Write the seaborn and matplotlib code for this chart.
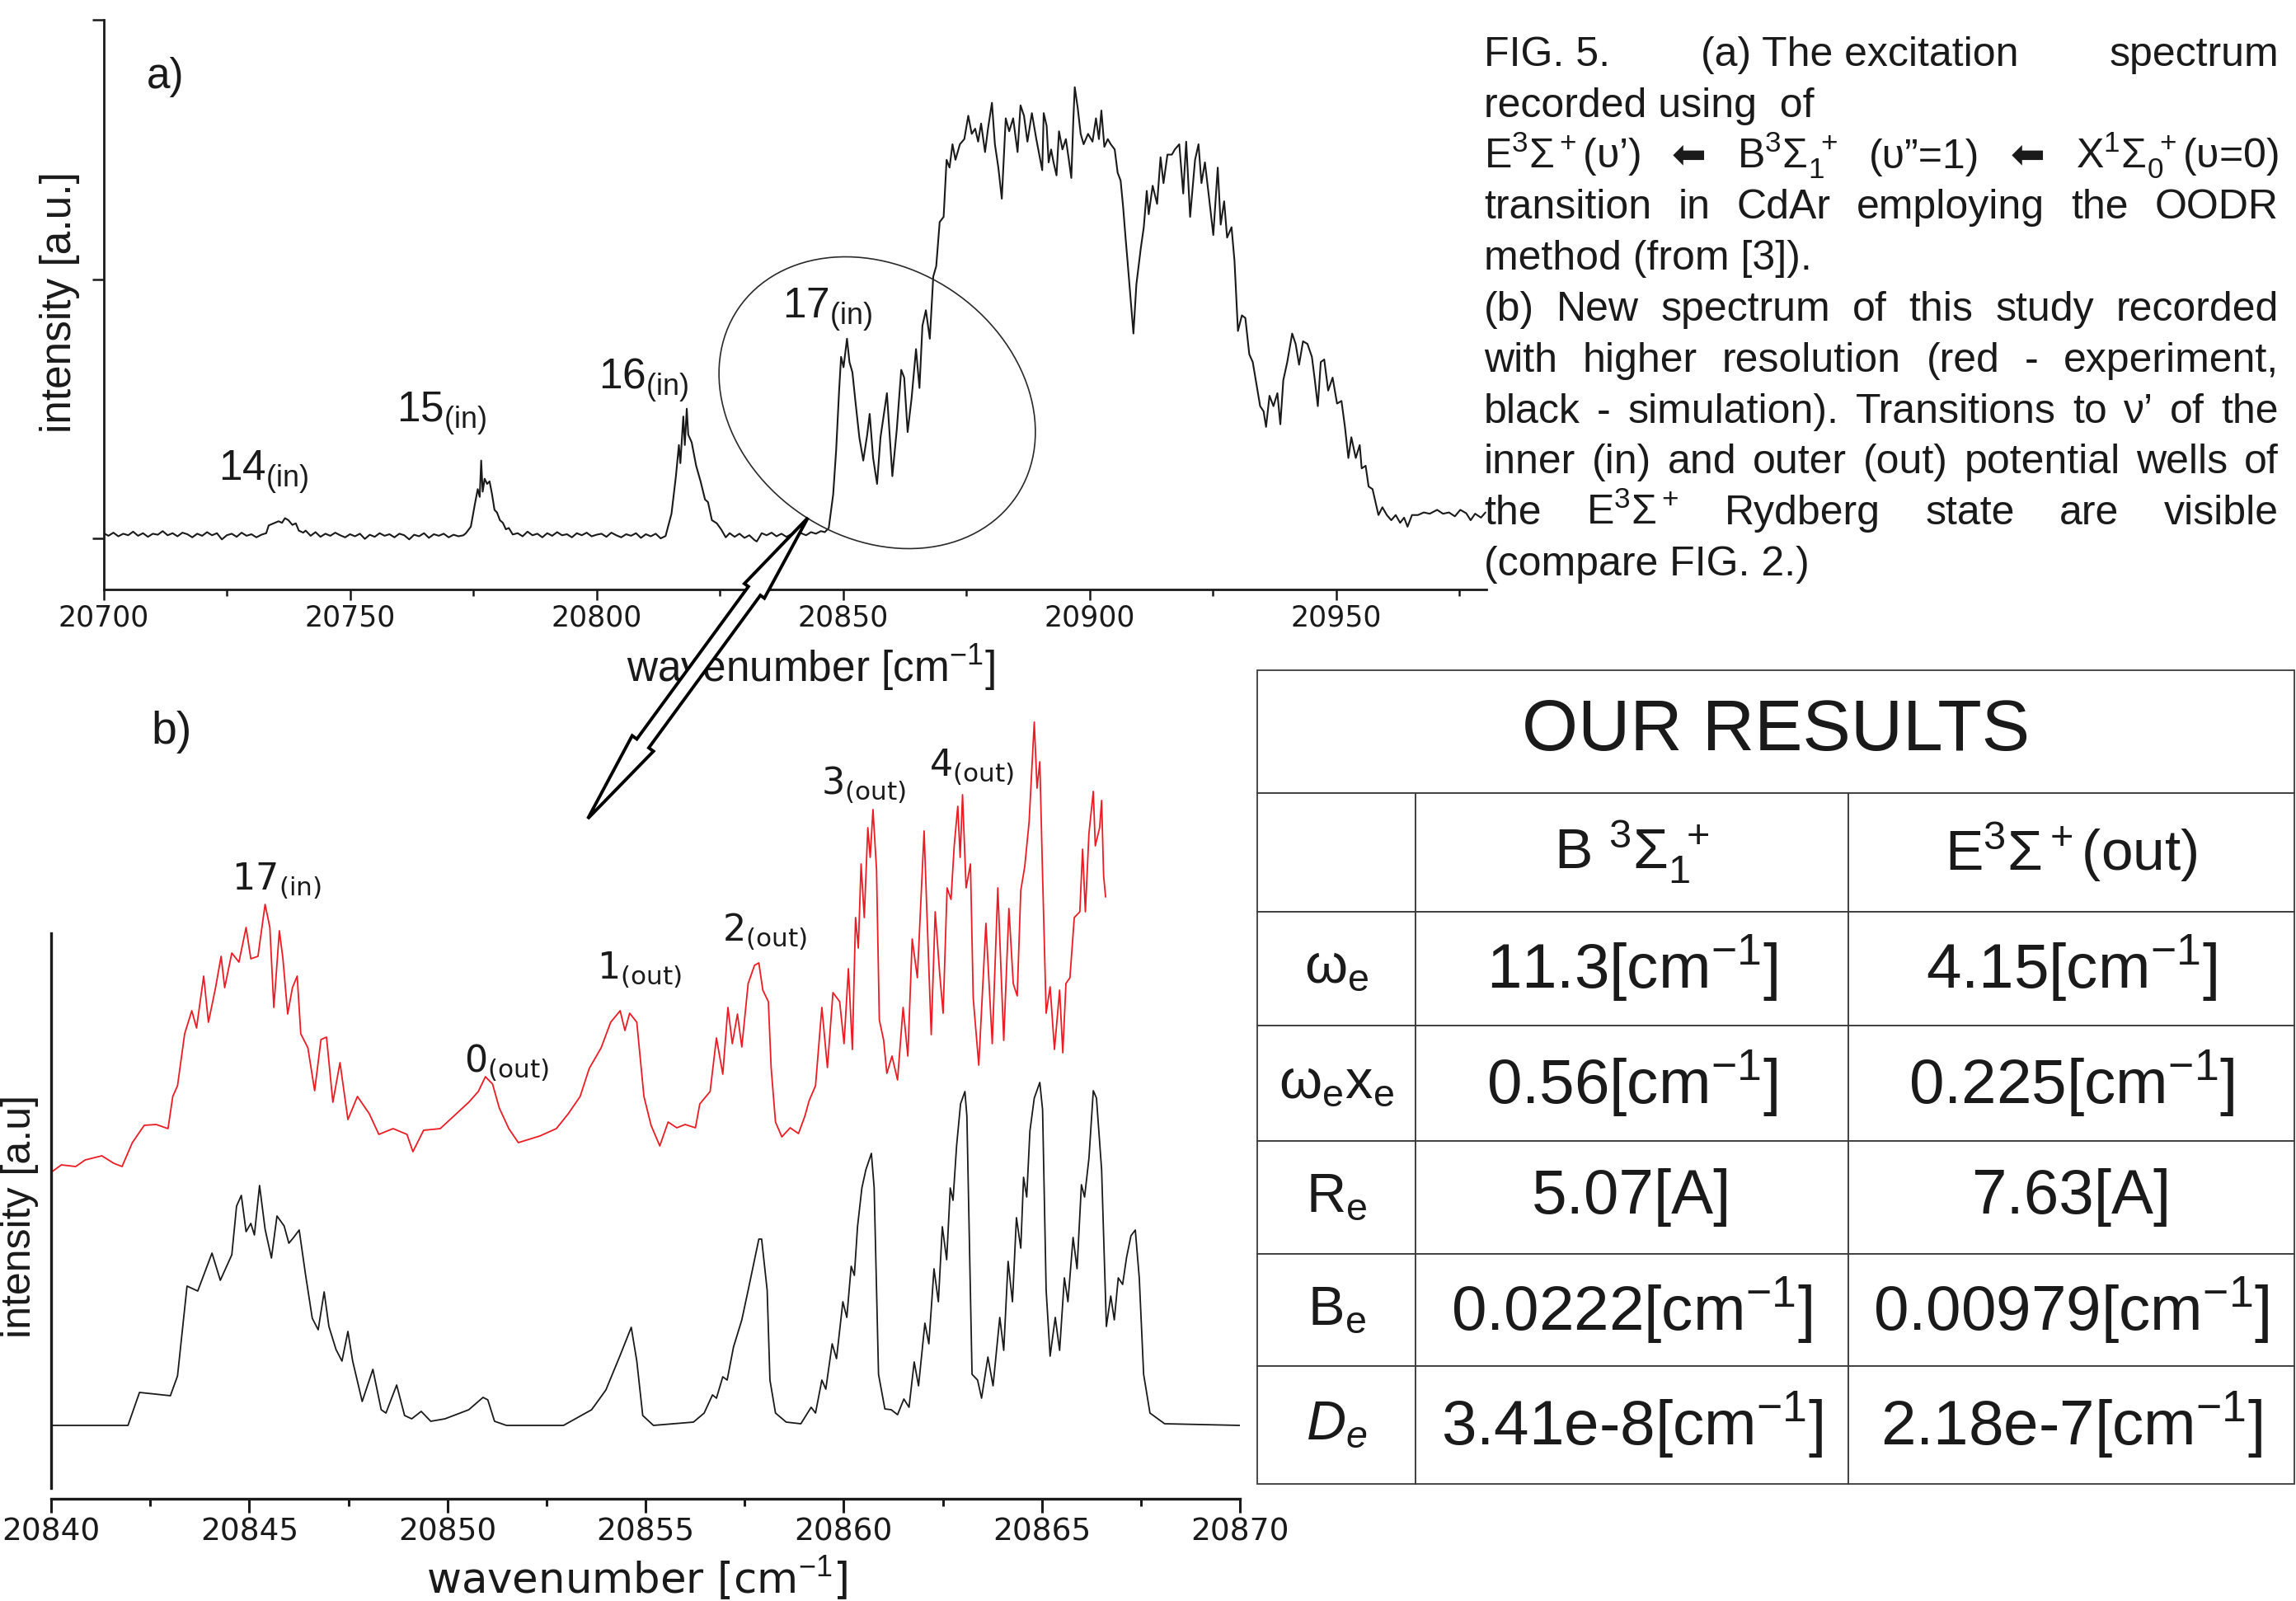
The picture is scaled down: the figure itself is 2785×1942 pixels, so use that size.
"""FIG. 5 re-draw: CdAr excitation spectra (a, b) + fitted constants table."""
import math

import matplotlib
matplotlib.use("Agg")
import matplotlib.pyplot as plt
import seaborn as sns
from matplotlib.patches import Ellipse, Polygon
from matplotlib.table import Table
from matplotlib.ticker import MultipleLocator
from matplotlib.transforms import Affine2D

W, H, DPI = 2785, 1942, 100

# ---- panel a: OODR excitation spectrum (from [3]) ----
A_WN = [
    20700, 20701, 20702, 20703, 20704, 20705, 20706, 20707, 20708, 20709,
    20710, 20711, 20712, 20713, 20714, 20715, 20716, 20717, 20718, 20719,
    20720, 20721, 20722, 20723, 20724, 20725, 20726, 20727, 20728, 20729,
    20730, 20731, 20732, 20733, 20733.5, 20734.5, 20735.5, 20736.2, 20736.8, 20737.5,
    20738.3, 20739.0, 20739.6, 20740.5, 20741, 20742, 20743, 20744, 20745, 20746,
    20747, 20748, 20749, 20750, 20751, 20752, 20753, 20754, 20755, 20756,
    20757, 20758, 20759, 20760, 20761, 20762, 20763, 20764, 20765, 20766,
    20767, 20768, 20769, 20770, 20771, 20772, 20773, 20773.5, 20774.5, 20775.3,
    20775.9, 20776.3, 20776.6, 20776.9, 20777.3, 20777.8, 20778.3, 20778.8, 20779.3, 20779.8,
    20780.4, 20781, 20781.6, 20782.2, 20783, 20784, 20785, 20786, 20787, 20788,
    20789, 20790, 20791, 20792, 20793, 20794, 20795, 20796, 20797, 20798,
    20799, 20800, 20801, 20802, 20803, 20804, 20805, 20806, 20807, 20808,
    20809, 20810, 20811, 20812, 20813, 20814, 20815.2, 20816.1, 20816.7, 20817.0,
    20817.6, 20817.9, 20818.3, 20818.6, 20819.3, 20820.2, 20821.1, 20822.0, 20822.6, 20823.4,
    20824.4, 20825.3, 20826.2, 20827, 20828, 20829, 20830, 20831, 20832, 20832.5,
    20833.5, 20834.5, 20835.5, 20836.5, 20837.5, 20838.5, 20839.5, 20840.5, 20841.5, 20842.5,
    20843.5, 20844.5, 20845.5, 20846.3, 20847.1, 20848.0, 20848.6, 20849.2, 20849.6, 20850.1,
    20850.8, 20851.3, 20851.9, 20852.5, 20853.3, 20854.1, 20854.9, 20855.4, 20856.1, 20856.9,
    20857.6, 20858.9, 20860.0, 20860.9, 20861.8, 20862.4, 20863.1, 20863.9, 20864.8, 20865.5,
    20866.1, 20866.8, 20867.6, 20868.3, 20868.9, 20869.6, 20870.4, 20871.0, 20871.6, 20872.2,
    20872.8, 20873.7, 20874.6, 20875.4, 20876.1, 20876.8, 20877.4, 20878.0, 20878.8, 20879.4,
    20880.2, 20880.8, 20881.5, 20882.2, 20883.0, 20883.7, 20884.5, 20885.4, 20886.0, 20886.7,
    20887.4, 20888.3, 20889.2, 20890.4, 20890.7, 20891.3, 20891.7, 20892.2, 20892.7, 20893.3,
    20893.8, 20894.5, 20895.2, 20895.8, 20896.3, 20896.7, 20897.0, 20897.6, 20898.2, 20898.8,
    20899.7, 20900.6, 20901.3, 20901.9, 20902.4, 20903.0, 20903.7, 20904.3, 20905.1, 20905.7,
    20906.3, 20906.8, 20907.3, 20907.7, 20908.3, 20908.9, 20909.5, 20910.4, 20911.0, 20911.6,
    20912.0, 20912.8, 20913.7, 20914.4, 20915.0, 20915.8, 20916.7, 20917.3, 20918.2, 20919.0,
    20919.6, 20920.4, 20921.4, 20922.1, 20922.7, 20923.4, 20924.2, 20925.1, 20926.0, 20926.6,
    20927.3, 20927.9, 20928.8, 20929.4, 20930.1, 20930.9, 20931.6, 20932.4, 20933.1, 20933.9,
    20934.6, 20935.3, 20935.8, 20936.5, 20937.3, 20938.1, 20938.7, 20939.3, 20940.1, 20941.1,
    20941.8, 20942.5, 20943.3, 20944.2, 20945.1, 20945.7, 20946.3, 20946.9, 20947.6, 20948.4,
    20949.3, 20950.2, 20951.1, 20951.8, 20952.5, 20953.1, 20954.0, 20954.8, 20955.2, 20956.0,
    20956.6, 20957.4, 20958.0, 20958.6, 20959.4, 20960.3, 20961.2, 20962.1, 20963.0, 20963.8,
    20964.5, 20965.4, 20966.6, 20967.8, 20969.0, 20970.5, 20971.7, 20972.9, 20974.1, 20975.2,
    20976.4, 20977.3, 20978.2, 20979.4, 20980.3,
]
A_INT = [
    0.020, 0.010, 0.022, 0.008, 0.018, 0.012, 0.026, 0.010, 0.020, 0.006,
    0.018, 0.014, 0.028, 0.012, 0.020, 0.008, 0.022, 0.016, 0.004, 0.018,
    0.010, 0.024, 0.012, 0.020, -0.004, 0.012, 0.018, 0.006, 0.022, 0.010,
    0.016, 0.004, 0.014, 0.020, 0.050, 0.058, 0.066, 0.060, 0.078, 0.070,
    0.052, 0.058, 0.030, 0.022, 0.030, 0.010, 0.024, 0.006, 0.018, 0.010,
    0.022, 0.012, 0.004, 0.016, 0.008, 0.018, -0.002, 0.014, 0.006, 0.020,
    0.010, 0.016, 0.004, 0.018, 0.012, -0.004, 0.014, 0.008, 0.020, 0.002,
    0.016, 0.010, 0.018, 0.004, 0.014, 0.008, 0.012, 0.020, 0.045, 0.130,
    0.190, 0.160, 0.300, 0.180, 0.230, 0.210, 0.220, 0.170, 0.110, 0.100,
    0.070, 0.060, 0.035, 0.040, 0.015, 0.020, 0.008, 0.026, 0.012, 0.018,
    0.004, 0.020, 0.010, 0.024, 0.012, 0.016, 0.004, 0.020, 0.012, 0.022,
    0.008, 0.014, 0.018, 0.006, 0.022, 0.012, 0.004, 0.016, 0.010, 0.020,
    0.002, 0.016, 0.008, 0.018, 0.000, 0.009, 0.095, 0.240, 0.360, 0.290,
    0.470, 0.360, 0.500, 0.400, 0.370, 0.280, 0.220, 0.150, 0.140, 0.070,
    0.058, 0.034, 0.004, 0.020, 0.006, 0.018, 0.002, 0.012, -0.006, -0.012,
    0.020, 0.012, 0.022, 0.008, 0.018, 0.006, 0.016, 0.010, 0.020, 0.012,
    0.024, 0.018, 0.028, 0.024, 0.040, 0.170, 0.340, 0.570, 0.700, 0.660,
    0.770, 0.680, 0.640, 0.530, 0.390, 0.300, 0.400, 0.480, 0.310, 0.210,
    0.390, 0.560, 0.240, 0.420, 0.650, 0.620, 0.410, 0.540, 0.730, 0.580,
    0.820, 0.880, 0.770, 1.010, 1.050, 1.220, 1.240, 1.460, 1.430, 1.520,
    1.460, 1.520, 1.540, 1.630, 1.560, 1.580, 1.530, 1.600, 1.490, 1.580,
    1.680, 1.520, 1.430, 1.310, 1.620, 1.570, 1.620, 1.490, 1.670, 1.630,
    1.530, 1.640, 1.540, 1.420, 1.640, 1.590, 1.450, 1.500, 1.450, 1.400,
    1.570, 1.500, 1.540, 1.460, 1.390, 1.610, 1.740, 1.660, 1.560, 1.520,
    1.560, 1.530, 1.620, 1.540, 1.650, 1.510, 1.540, 1.520, 1.500, 1.410,
    1.380, 1.280, 1.160, 1.070, 0.930, 0.790, 0.980, 1.120, 1.200, 1.340,
    1.250, 1.360, 1.290, 1.470, 1.370, 1.480, 1.480, 1.500, 1.520, 1.330,
    1.530, 1.240, 1.460, 1.520, 1.370, 1.450, 1.320, 1.170, 1.430, 1.210,
    1.300, 1.160, 1.200, 1.070, 0.800, 0.860, 0.850, 0.710, 0.680, 0.590,
    0.510, 0.490, 0.430, 0.550, 0.510, 0.560, 0.440, 0.610, 0.680, 0.790,
    0.750, 0.670, 0.760, 0.750, 0.700, 0.610, 0.510, 0.680, 0.690, 0.570,
    0.620, 0.520, 0.530, 0.430, 0.310, 0.390, 0.310, 0.360, 0.270, 0.280,
    0.200, 0.190, 0.140, 0.090, 0.120, 0.090, 0.070, 0.090, 0.060, 0.080,
    0.045, 0.090, 0.090, 0.100, 0.095, 0.110, 0.095, 0.100, 0.085, 0.110,
    0.097, 0.070, 0.095, 0.080, 0.100,
]
A_PEAKS = ["14", "15", "16", "17"]

# ---- panel b: high-resolution spectrum, experiment (red) and simulation (black) ----
B_SIM_WN = [
    20840.00, 20841.94, 20842.23, 20843.01, 20843.19, 20843.43, 20843.70, 20844.06, 20844.27, 20844.56,
    20844.68, 20844.80, 20844.92, 20845.04, 20845.13, 20845.26, 20845.40, 20845.56, 20845.70, 20845.88,
    20846.00, 20846.12, 20846.26, 20846.42, 20846.59, 20846.74, 20846.89, 20847.01, 20847.19, 20847.34,
    20847.49, 20847.61, 20847.85, 20848.12, 20848.33, 20848.45, 20848.72, 20848.92, 20849.10, 20849.34,
    20849.58, 20849.94, 20850.54, 20850.90, 20851.02, 20851.19, 20851.49, 20852.93, 20853.23, 20853.64,
    20854.00, 20854.36, 20854.64, 20854.78, 20854.93, 20855.20, 20856.21, 20856.48, 20856.69, 20856.79,
    20856.95, 20857.06, 20857.22, 20857.43, 20857.59, 20857.75, 20857.86, 20857.93, 20858.07, 20858.14,
    20858.28, 20858.55, 20858.92, 20859.18, 20859.29, 20859.45, 20859.55, 20859.71, 20859.82, 20859.98,
    20860.08, 20860.19, 20860.27, 20860.35, 20860.46, 20860.56, 20860.70, 20860.77, 20860.88, 20861.04,
    20861.20, 20861.36, 20861.52, 20861.65, 20861.78, 20861.89, 20862.05, 20862.15, 20862.28, 20862.39,
    20862.49, 20862.60, 20862.69, 20862.76, 20862.85, 20862.95, 20863.06, 20863.11, 20863.24, 20863.38,
    20863.48, 20863.64, 20863.77, 20863.94, 20864.04, 20864.15, 20864.26, 20864.36, 20864.47, 20864.54,
    20864.62, 20864.70, 20864.81, 20864.95, 20865.02, 20865.11, 20865.21, 20865.34, 20865.45, 20865.57,
    20865.66, 20865.79, 20865.89, 20866.00, 20866.08, 20866.19, 20866.30, 20866.38, 20866.51, 20866.63,
    20866.74, 20866.83, 20866.93, 20867.04, 20867.14, 20867.25, 20867.36, 20867.46, 20867.57, 20867.73,
    20868.10, 20870.00,
]
B_SIM_INT = [
    0.00, 0.00, 0.40, 0.36, 0.60, 1.69, 1.63, 2.09, 1.76, 2.07,
    2.66, 2.79, 2.35, 2.45, 2.31, 2.91, 2.38, 2.03, 2.54, 2.42,
    2.21, 2.28, 2.37, 1.83, 1.30, 1.16, 1.62, 1.20, 0.92, 0.78,
    1.14, 0.78, 0.29, 0.68, 0.19, 0.15, 0.49, 0.12, 0.08, 0.17,
    0.05, 0.08, 0.19, 0.34, 0.31, 0.05, 0.00, 0.00, 0.08, 0.19,
    0.43, 0.85, 1.19, 0.78, 0.12, 0.00, 0.04, 0.15, 0.37, 0.33,
    0.59, 0.55, 0.95, 1.28, 1.64, 2.01, 2.26, 2.26, 1.64, 0.55,
    0.15, 0.04, 0.02, 0.22, 0.15, 0.55, 0.44, 0.99, 0.81, 1.50,
    1.31, 1.93, 1.82, 2.41, 2.88, 3.10, 3.30, 2.88, 0.62, 0.20,
    0.19, 0.13, 0.32, 0.22, 0.77, 0.48, 1.24, 0.99, 1.90, 1.50,
    2.41, 2.01, 2.88, 2.73, 3.39, 3.90, 4.05, 3.75, 0.62, 0.55,
    0.33, 0.83, 0.48, 1.31, 0.91, 1.99, 1.50, 2.52, 2.15, 3.01,
    2.77, 3.57, 3.97, 4.16, 3.83, 1.64, 0.84, 1.31, 0.91, 1.79,
    1.50, 2.28, 1.90, 2.92, 2.77, 3.24, 4.06, 3.97, 3.10, 1.20,
    1.57, 1.28, 1.79, 1.71, 2.04, 2.30, 2.37, 1.79, 0.62, 0.15,
    0.02, 0.00,
]
B_EXP_WN = [
    20840.00, 20840.26, 20840.62, 20840.86, 20841.28, 20841.58, 20841.79, 20842.05, 20842.35, 20842.65,
    20842.95, 20843.07, 20843.19, 20843.37, 20843.55, 20843.67, 20843.85, 20843.97, 20844.15, 20844.29,
    20844.38, 20844.56, 20844.74, 20844.92, 20845.04, 20845.22, 20845.40, 20845.52, 20845.62, 20845.76,
    20845.85, 20845.97, 20846.09, 20846.21, 20846.30, 20846.48, 20846.65, 20846.81, 20846.95, 20847.11,
    20847.29, 20847.49, 20847.73, 20848.03, 20848.27, 20848.63, 20848.98, 20849.13, 20849.40, 20849.82,
    20850.18, 20850.54, 20850.78, 20850.96, 20851.14, 20851.31, 20851.55, 20851.79, 20852.33, 20852.75,
    20853.05, 20853.35, 20853.58, 20853.88, 20854.12, 20854.36, 20854.48, 20854.60, 20854.78, 20854.96,
    20855.14, 20855.36, 20855.57, 20855.79, 20856.00, 20856.26, 20856.37, 20856.63, 20856.79, 20856.95,
    20857.08, 20857.19, 20857.32, 20857.43, 20857.59, 20857.75, 20857.86, 20857.96, 20858.10, 20858.17,
    20858.28, 20858.44, 20858.65, 20858.86, 20859.02, 20859.13, 20859.29, 20859.45, 20859.59, 20859.73,
    20859.90, 20860.01, 20860.12, 20860.22, 20860.30, 20860.37, 20860.44, 20860.52, 20860.61, 20860.67,
    20860.74, 20860.83, 20860.90, 20861.01, 20861.09, 20861.22, 20861.36, 20861.50, 20861.62, 20861.73,
    20861.86, 20862.03, 20862.10, 20862.21, 20862.31, 20862.42, 20862.51, 20862.61, 20862.71, 20862.79,
    20862.88, 20862.94, 20863.00, 20863.09, 20863.20, 20863.27, 20863.41, 20863.59, 20863.75, 20863.89,
    20864.04, 20864.17, 20864.28, 20864.38, 20864.47, 20864.57, 20864.68, 20864.81, 20864.88, 20864.95,
    20865.02, 20865.11, 20865.21, 20865.32, 20865.45, 20865.53, 20865.61, 20865.71, 20865.82, 20865.96,
    20866.03, 20866.10, 20866.19, 20866.30, 20866.35, 20866.46, 20866.51, 20866.56, 20866.61,
]
B_EXP_INT = [
    3.07, 3.16, 3.14, 3.22, 3.27, 3.18, 3.14, 3.43, 3.64, 3.65,
    3.60, 3.99, 4.12, 4.75, 5.03, 4.82, 5.45, 4.89, 5.31, 5.69,
    5.31, 5.73, 5.62, 6.04, 5.66, 5.69, 6.32, 6.04, 5.07, 6.00,
    5.66, 4.99, 5.31, 5.45, 4.75, 4.58, 4.06, 4.68, 4.71, 3.92,
    4.40, 3.71, 3.99, 3.78, 3.53, 3.60, 3.53, 3.32, 3.58, 3.60,
    3.76, 3.92, 4.05, 4.23, 4.14, 3.85, 3.60, 3.43, 3.51, 3.60,
    3.78, 3.99, 4.33, 4.58, 4.89, 5.03, 4.79, 5.00, 4.89, 3.99,
    3.64, 3.39, 3.68, 3.61, 3.65, 3.61, 3.90, 4.05, 4.70, 4.26,
    5.07, 4.63, 4.99, 4.59, 5.36, 5.58, 5.61, 5.28, 5.14, 4.34,
    3.68, 3.50, 3.61, 3.54, 3.75, 3.94, 4.12, 5.07, 4.34, 5.25,
    5.14, 4.63, 5.54, 4.56, 6.16, 5.79, 6.81, 6.16, 7.25, 6.89,
    7.47, 6.74, 4.92, 4.67, 4.27, 4.48, 4.19, 5.07, 4.48, 5.90,
    5.43, 7.21, 6.23, 4.74, 6.23, 5.50, 5.00, 6.52, 6.38, 7.03,
    7.51, 6.89, 7.65, 6.52, 6.81, 5.18, 4.37, 6.09, 4.63, 6.52,
    4.67, 6.27, 5.36, 5.21, 6.49, 6.78, 7.32, 8.53, 7.73, 8.05,
    6.67, 5.00, 5.32, 4.56, 5.28, 4.52, 5.36, 5.43, 6.16, 6.23,
    6.99, 6.23, 7.18, 7.69, 7.03, 7.25, 7.58, 6.67, 6.41,
]
B_PEAKS = ["17", "0", "1", "2", "3", "4"]
B_PEAK_WELL = ["in", "out", "out", "out", "out", "out"]

# ---- table: spectroscopic constants ----
TABLE_TITLE = "OUR RESULTS"
STATES = [r"B $^3\Sigma_1^{\ +}$", r"E$^3\Sigma^+$(out)"]
CONSTANTS = [r"ω$_\mathregular{e}$", r"ω$_\mathregular{e}$x$_\mathregular{e}$",
             r"R$_\mathregular{e}$", r"B$_\mathregular{e}$", r"$D_e$"]
B_STATE_VALUES = ["11.3", "0.56", "5.07", "0.0222", "3.41e-8"]
E_STATE_VALUES = ["4.15", "0.225", "7.63", "0.00979", "2.18e-7"]
UNITS = ["cm$^{-1}$", "cm$^{-1}$", "A", "cm$^{-1}$", "cm$^{-1}$"]

CAPTION = [
    (["FIG. 5.", "(a) The excitation", "spectrum"], True),
    (["recorded using  of"], False),
    ([r"E$^3\Sigma^+$(υ’)", "⬅", r"B$^3\Sigma_1^{\ +}$", "(υ”=1)", "⬅",
      r"X$^1\Sigma_0^{\ +}$(υ=0)"], True),
    ("transition in CdAr employing the OODR".split(), True),
    (["method (from [3])."], False),
    ("(b) New spectrum of this study recorded".split(), True),
    ("with higher resolution (red - experiment,".split(), True),
    ("black - simulation). Transitions to ν’ of the".split(), True),
    ("inner (in) and outer (out) potential wells of".split(), True),
    (["the", r"E$^3\Sigma^+$", "Rydberg", "state", "are", "visible"], True),
    (["(compare FIG. 2.)"], False),
]

SANS = ["Liberation Sans", "DejaVu Sans"]
WIDE = ["DejaVu Sans"]
RED = "#ec1c24"
INK = "#1a1a1a"

sns.set_theme(style="ticks")
plt.rcParams.update({
    "font.family": SANS,
    "mathtext.fontset": "custom",
    "mathtext.rm": "Liberation Sans",
    "mathtext.it": "Liberation Sans:italic",
    "mathtext.bf": "Liberation Sans:bold",
    "axes.facecolor": "white",
    "figure.facecolor": "white",
    "axes.edgecolor": INK,
    "xtick.color": INK,
    "ytick.color": INK,
    "text.color": INK,
})

fig = plt.figure(figsize=(W / DPI, H / DPI), dpi=DPI)
PIX = Affine2D().scale(1, -1).translate(0, H)  # image pixels (y down) -> display


def box(l, t, r, b):
    return [l / W, 1 - b / H, (r - l) / W, (b - t) / H]


def ftext(x, y, s, **kw):
    return fig.text(x / W, 1 - y / H, s, **kw)


# ---------------- panel a ----------------
ax_a = fig.add_axes(box(125.6, 24, 1803, 715))
sns.lineplot(x=A_WN, y=A_INT, ax=ax_a, color=INK, lw=1.5, estimator=None, sort=False)
ax_a.set_xlim(20700, 20980.5)
ax_a.set_ylim(-0.197, 2.0)
ax_a.xaxis.set_major_locator(MultipleLocator(50))
ax_a.xaxis.set_minor_locator(MultipleLocator(25))
ax_a.set_yticks([0, 1, 2])
ax_a.set_yticklabels([])
ax_a.tick_params(axis="x", which="major", length=9.5, width=1.8, labelsize=25, pad=3,
                 labelfontfamily="DejaVu Sans")
ax_a.tick_params(axis="x", which="minor", length=6, width=1.8)
ax_a.tick_params(axis="y", length=10, width=1.8)
sns.despine(ax=ax_a)
for s in ("left", "bottom"):
    ax_a.spines[s].set_linewidth(2.0)

ftext(178, 93, "a)", fontsize=37, va="center", ha="left")
ftext(73, 367, "intensity [a.u.]", fontsize=37, rotation=90, ha="center", va="center")
ftext(983, 810, "wavenumber [cm$^{-1}$]", fontsize=37, ha="center", va="center")
for lab, (x, y) in zip(A_PEAKS, [(265, 583), (481, 512), (726, 472), (949, 386)]):
    ftext(x, y, rf"$\mathregular{{{lab}_{{(in)}}}}$", fontsize=37, ha="left", va="baseline")

fig.add_artist(Ellipse((1064, 488.5), 407, 327, angle=34, transform=PIX,
                       fill=False, ec="#2a2a2a", lw=1.2, zorder=5))

# ---------------- panel b ----------------
ax_b = fig.add_axes(box(62, 850, 1504, 1818))
sns.lineplot(x=B_EXP_WN, y=B_EXP_INT, ax=ax_b, color=RED, lw=1.3, estimator=None, sort=False)
sns.lineplot(x=B_SIM_WN, y=B_SIM_INT, ax=ax_b, color=INK, lw=1.3, estimator=None, sort=False)
ax_b.set_xlim(20840, 20870)
ax_b.set_ylim(-0.89, 8.79)
ax_b.xaxis.set_major_locator(MultipleLocator(5))
ax_b.xaxis.set_minor_locator(MultipleLocator(2.5))
ax_b.set_yticks([])
ax_b.tick_params(axis="x", which="major", length=12, width=2.2, labelsize=27, pad=4,
                 labelfontfamily="DejaVu Sans")
ax_b.tick_params(axis="x", which="minor", length=6.5, width=2.2)
sns.despine(ax=ax_b)
for s in ("left", "bottom"):
    ax_b.spines[s].set_linewidth(2.4)
ax_b.spines["left"].set_bounds(-0.76, 5.97)

ftext(183, 888, "b)", fontsize=40, va="center", ha="left")
ftext(24, 1475, "intensity [a.u]", fontsize=36, rotation=90, ha="center", va="center")
ftext(773, 1933, "wavenumber [cm$^{-1}$]", fontsize=37, ha="center", va="baseline",
      family=WIDE)
for lab, well, (x, y) in zip(B_PEAKS, B_PEAK_WELL,
                             [(281, 1080), (563, 1301), (724, 1188), (876, 1142),
                              (996, 964), (1127, 942)]):
    ftext(x, y, rf"$\mathregular{{{lab}_{{({well})}}}}$", fontsize=32, ha="left",
          va="baseline", family=WIDE)

# hollow double-wedge arrow from the circled 17(in) band down to panel b,
# outline given along the arrow (s) and across it (w), in pixels
tail, head = (980, 628), (713, 993)
length = math.hypot(head[0] - tail[0], head[1] - tail[1])
angle = math.atan2(head[1] - tail[1], head[0] - tail[0])
wedge_len, head_len = 110, 113
outline = [(0, 0), (wedge_len, 15), (wedge_len, 9), (length - head_len, 9),
           (length - head_len, 16), (length, 0), (length - head_len, -16),
           (length - head_len, -9), (wedge_len, -9), (wedge_len, -15)]
fig.add_artist(Polygon(outline, closed=True, fc="white", ec="black", lw=2.8, joinstyle="miter",
                       transform=Affine2D().rotate(angle).translate(*tail) + PIX, zorder=20))

# ---------------- caption (justified) ----------------
renderer = fig.canvas.get_renderer()
X0, X1 = 1800, 2764
for i, (tokens, justify) in enumerate(CAPTION):
    base = 80 + 61.8 * i
    arts = [ftext(0, 0, t, fontsize=36, ha="left", va="baseline") for t in tokens]
    widths = [a.get_window_extent(renderer).width for a in arts]
    if justify and len(arts) > 1:
        gap = (X1 - X0 - sum(widths)) / (len(arts) - 1)
    else:
        gap = 14
    x = X0
    for a, w in zip(arts, widths):
        a.set_position((x / W, 1 - base / H))
        x += w + gap

# ---------------- results table ----------------
ax_t = fig.add_axes(box(1525, 813, 2783, 1800))
ax_t.set_axis_off()
EDGE = "#3a3a3a"
head_frac = 149 / 987

hdr = Table(ax_t, bbox=[0, 1 - head_frac, 1, head_frac])
hdr.auto_set_font_size(False)
c = hdr.add_cell(0, 0, width=1, height=1, text=TABLE_TITLE, loc="center",
                 edgecolor=EDGE, facecolor="white")
c.get_text().set_fontsize(63)
c.set_linewidth(1.3)
ax_t.add_table(hdr)

body = Table(ax_t, bbox=[0, 0, 1, 1 - head_frac])
body.auto_set_font_size(False)
col_w = [192, 525, 541]
row_h = [144, 138, 141, 137, 136, 143]
rows = [[""] + STATES]
for lab, vb, ve, u in zip(CONSTANTS, B_STATE_VALUES, E_STATE_VALUES, UNITS):
    rows.append([lab, f"{vb}[{u}]", f"{ve}[{u}]"])
for i, row in enumerate(rows):
    for j, txt in enumerate(row):
        cell = body.add_cell(i, j, width=col_w[j], height=row_h[i], text=txt, loc="center",
                             edgecolor=EDGE, facecolor="white")
        cell.set_linewidth(1.3)
        if i == 0:
            size = 50
        elif j == 0:
            size = 48
        else:
            size = 55
        cell.get_text().set_fontsize(size)
ax_t.add_table(body)

fig.savefig("out.png", dpi=DPI)
